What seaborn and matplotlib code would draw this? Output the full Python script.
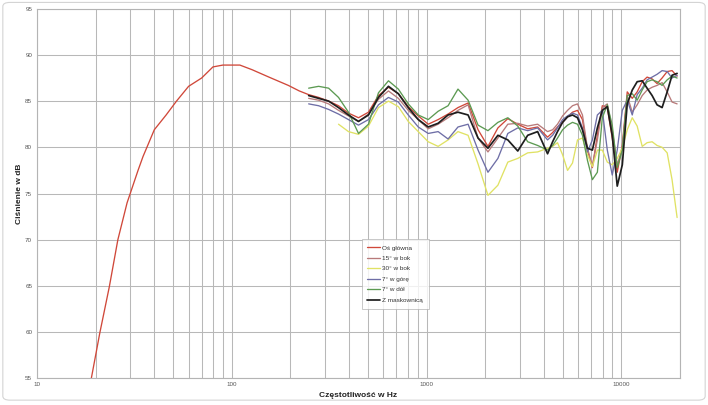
import numpy as np
import pandas as pd
import matplotlib
matplotlib.use("Agg")
import matplotlib.pyplot as plt
import matplotlib.ticker as mticker
from matplotlib.patches import FancyBboxPatch
import seaborn as sns

# ---------------- data ----------------
series_names = ["Oś główna", "15° w bok", "30° w bok", "7° w górę", "7° w dół", "Z maskownicą"]
series_colors = ["#d0483a", "#b87a7a", "#e0e264", "#6e6ea6", "#5c9a52", "#1e1e1e"]

# low-frequency part of main axis curve
main_lf_freq = [18, 19, 21, 23.5, 26, 29, 33, 35, 40, 46, 52, 60, 70, 80, 90, 110, 127, 155, 195, 222]
main_lf_db = [53.8, 55.0, 59.9, 64.9, 70.0, 74.0, 77.5, 79.0, 81.9, 83.5, 85.0, 86.6, 87.5, 88.7, 88.9,
              88.9, 88.4, 87.6, 86.7, 86.1]

hf_freq = [248, 279, 314, 353, 397, 447, 503, 566, 637, 716, 805, 906, 1019, 1146, 1289, 1449, 1633,
           1837, 2065, 2323, 2612, 2938, 3304, 3715, 4178, 4436, 4699, 4989, 5292, 5610, 5951, 6310,
           6693, 7096, 7527, 7980, 8465, 8974, 9520, 10107, 10715, 11370, 12050, 12790, 13550, 14380,
           15240, 16180, 17180, 18200, 19320]

main_hf_db = [85.7, 85.4, 85.0, 84.5, 83.7, 83.2, 83.8, 85.6, 86.5, 85.8, 84.4, 83.4, 82.5, 83.0, 83.6,
              84.3, 84.8, 81.9, 80.1, 82.1, 83.1, 82.5, 82.0, 82.2, 81.1, 81.6, 82.2, 82.7, 83.3, 83.8,
              84.0, 83.0, 79.7, 77.8, 81.3, 84.5, 84.3, 81.0, 77.3, 80.2, 86.0, 85.3, 86.0, 87.1, 87.6,
              87.4, 86.9, 87.5, 88.2, 88.3, 87.7]

side15_db = [85.3, 85.1, 84.7, 84.0, 83.4, 82.8, 83.6, 85.2, 86.1, 85.3, 84.0, 83.0, 82.0, 82.5, 83.2,
             84.0, 84.6, 81.0, 79.5, 81.0, 82.5, 82.6, 82.3, 82.5, 81.7, 81.9, 82.5, 83.4, 84.0, 84.5,
             84.7, 83.5, 79.9, 78.0, 80.8, 84.3, 84.7, 81.9, 78.1, 79.9, 85.6, 83.8, 84.6, 85.6, 86.2,
             86.5, 86.7, 87.0, 86.0, 84.9, 84.7]

side30_freq = hf_freq[3:]
side30_db = [82.5, 81.7, 81.4, 82.3, 84.3, 85.0, 84.4, 82.8, 81.7, 80.6, 80.1, 80.8, 81.7, 81.3, 78.2,
             74.8, 75.9, 78.4, 78.8, 79.4, 79.5, 79.9, 80.1, 80.5, 79.2, 77.5, 78.3, 80.8, 81.0, 79.2,
             77.9, 79.7, 79.7, 78.4, 78.1, 78.8, 79.9, 81.9, 83.2, 82.3, 80.1, 80.5, 80.6, 80.2, 80.0,
             79.4, 76.5, 72.4]

up7_db = [84.7, 84.5, 84.1, 83.6, 83.0, 82.4, 83.0, 84.6, 85.4, 84.9, 83.5, 82.2, 81.5, 81.7, 80.9,
          82.2, 82.5, 79.7, 77.3, 78.8, 81.5, 82.1, 81.8, 82.1, 80.8, 81.3, 82.1, 83.0, 83.4, 83.7,
          83.5, 82.1, 79.5, 80.8, 83.5, 84.0, 79.7, 77.0, 79.7, 84.0, 85.1, 83.5, 85.7, 86.4, 87.3,
          87.6, 87.9, 88.3, 88.2, 87.5, 87.8]

down7_db = [86.4, 86.6, 86.4, 85.4, 83.8, 81.5, 82.5, 85.9, 87.2, 86.3, 84.7, 83.5, 83.0, 83.9, 84.5,
            86.3, 85.1, 82.4, 81.8, 82.7, 83.2, 82.3, 80.6, 80.2, 79.7, 80.2, 81.0, 81.9, 82.4, 82.7,
            82.5, 81.3, 78.6, 76.5, 77.3, 83.2, 84.6, 82.4, 77.8, 79.7, 85.6, 85.8, 85.1, 86.2, 87.1,
            87.3, 87.1, 86.7, 87.3, 87.7, 87.5]

grille_db = [85.6, 85.3, 85.0, 84.3, 83.5, 82.8, 83.5, 85.4, 86.6, 85.8, 84.3, 83.0, 82.2, 82.6, 83.5,
             83.8, 83.5, 81.0, 79.9, 81.3, 80.8, 79.6, 81.3, 81.7, 79.3, 80.6, 81.7, 82.7, 83.3, 83.5,
             83.2, 81.9, 79.9, 79.7, 82.1, 84.0, 84.4, 81.3, 75.8, 78.1, 84.7, 86.2, 87.1, 87.2, 86.4,
             85.6, 84.6, 84.3, 86.0, 87.8, 88.0]

x_tick_values = [10, 100, 1000, 10000]
y_tick_values = [55, 60, 65, 70, 75, 80, 85, 90, 95]

# ---------------- build frames ----------------
curves = {
    "Oś główna": (main_lf_freq + hf_freq, main_lf_db + main_hf_db),
    "15° w bok": (hf_freq, side15_db),
    "30° w bok": (side30_freq, side30_db),
    "7° w górę": (hf_freq, up7_db),
    "7° w dół": (hf_freq, down7_db),
    "Z maskownicą": (hf_freq, grille_db),
}

sns.set_theme(style="white")
plt.rcParams["font.family"] = ["Liberation Sans", "DejaVu Sans"]

fig = plt.figure(figsize=(7.08, 4.05), dpi=100)
ax = fig.add_axes([0.0523, 0.0659, 0.9082, 0.9126])

for name, color in zip(series_names, series_colors):
    f, d = curves[name]
    df = pd.DataFrame({"freq": f, "db": d})
    lw = 1.25 if name == "Z maskownicą" else 0.95
    sns.lineplot(data=df, x="freq", y="db", ax=ax, color=color, linewidth=lw,
                 label=name, sort=False, estimator=None)

ax.set_xscale("log")
ax.set_xlim(10, 20000)
ax.set_ylim(55, 95)
ax.set_xticks(x_tick_values)
ax.xaxis.set_major_formatter(mticker.FuncFormatter(lambda v, p: f"{int(v)}"))
ax.xaxis.set_minor_locator(mticker.LogLocator(base=10, subs=np.arange(2, 10)))
ax.xaxis.set_minor_formatter(mticker.NullFormatter())
ax.set_yticks(y_tick_values)

ax.grid(True, which="major", axis="both", color="#b8b8b8", linewidth=0.75)
ax.grid(True, which="minor", axis="x", color="#b8b8b8", linewidth=0.75)
ax.tick_params(axis="both", which="major", labelsize=4.5, labelcolor="#555555",
               length=2.5, width=0.6, color="#b4b4b4", pad=1)
ax.tick_params(axis="x", which="minor", length=0)
ax.tick_params(axis="x", which="major", length=0, pad=3)

for s in ax.spines.values():
    s.set_color("#b4b4b4")
    s.set_linewidth(0.8)

ax.set_xlabel("Częstotliwość w Hz", fontsize=6, fontweight="bold", color="#222222", labelpad=3)
ax.set_ylabel("Ciśnienie w dB", fontsize=6, fontweight="bold", color="#222222")
ax.yaxis.set_label_coords(-0.022, 0.5)

leg = ax.legend(loc="upper left", bbox_to_anchor=(0.505, 0.376), fontsize=4.6, frameon=True,
                fancybox=False, handlelength=2.0, handletextpad=0.3, borderpad=0.9,
                labelspacing=0.78, borderaxespad=0)
leg.get_frame().set_edgecolor("#b0b0b0")
leg.get_frame().set_linewidth(0.6)
for t in leg.get_texts():
    t.set_color("#333333")

# outer frame of the chart area
frame = FancyBboxPatch((0.004, 0.012), 0.992, 0.982, boxstyle="round,pad=0,rounding_size=0.01",
                       transform=fig.transFigure, facecolor="none", edgecolor="#d4d4d4",
                       linewidth=0.8, zorder=-1)
fig.patches.append(frame)

fig.savefig("out.png", dpi=100)
